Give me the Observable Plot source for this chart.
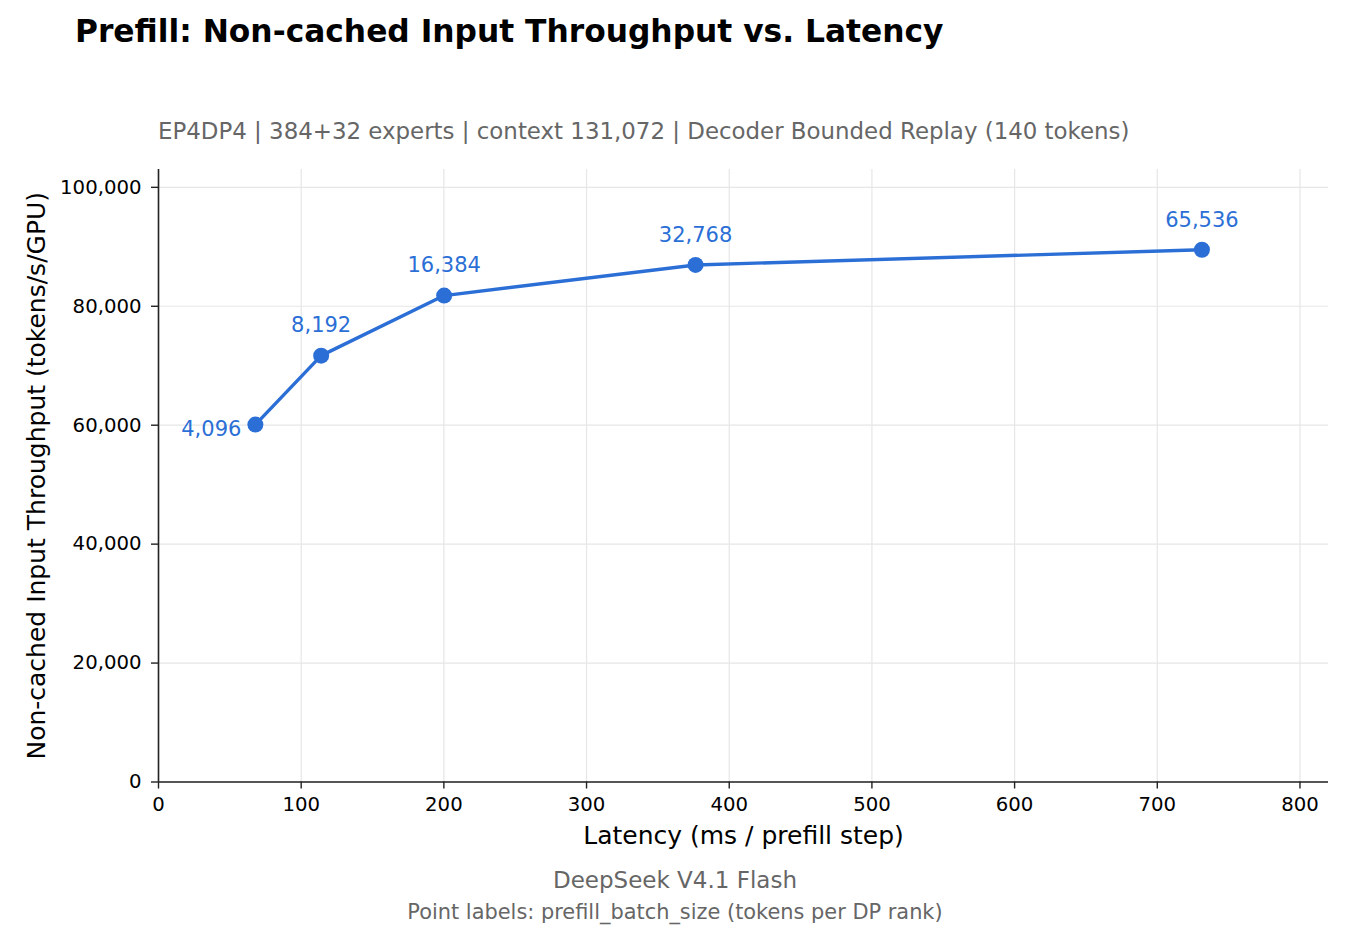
<!DOCTYPE html>
<html>
<head>
<meta charset="utf-8">
<script src="https://cdn.jsdelivr.net/npm/d3@7"></script>
<script src="https://cdn.jsdelivr.net/npm/@observablehq/plot@0.6"></script>
<style>
  html, body { margin: 0; padding: 0; background: #fff; }
  #page { position: relative; width: 1350px; height: 930px; font-family: "DejaVu Sans", sans-serif; }
  .txt { position: absolute; white-space: nowrap; line-height: 1; z-index: 2; }
  #title { left: 75px; top: 15.6px; font-size: 31.3px; font-weight: bold; color: #000; }
  #subtitle { left: 158px; top: 119.8px; font-size: 22.9px; color: #666; }
  #cap1 { left: 0; width: 1350px; text-align: center; top: 868.5px; font-size: 23px; color: #666; }
  #cap2 { left: 0; width: 1350px; text-align: center; top: 901.5px; font-size: 20.9px; color: #666; }
  #chart { position: absolute; left: 0; top: 100px; z-index: 1; }
</style>
</head>
<body>
<div id="page">
  <div id="chart"></div>
  <div id="title" class="txt">Prefill: Non-cached Input Throughput vs. Latency</div>
  <div id="subtitle" class="txt">EP4DP4 | 384+32 experts | context 131,072 | Decoder Bounded Replay (140 tokens)</div>
  <div id="cap1" class="txt">DeepSeek V4.1 Flash</div>
  <div id="cap2" class="txt">Point labels: prefill_batch_size (tokens per DP rank)</div>
</div>
<script>
// Prefill sweep: one point per prefill batch size
const batchSizes = [4096, 8192, 16384, 32768, 65536];
const latencyMs = [67.9, 114.0, 200.2, 376.4, 731.3];
const throughput = [60100, 71700, 81800, 86950, 89500];

// Axis ticks
const xTicks = [0, 100, 200, 300, 400, 500, 600, 700, 800];
const yTicks = [0, 20000, 40000, 60000, 80000, 100000];

const xLabel = "Latency (ms / prefill step)";
const yLabel = "Non-cached Input Throughput (tokens/s/GPU)";

const rows = batchSizes.map((b, i) => ({batch: b, latency: latencyMs[i], tput: throughput[i]}));
const fmt = d3.format(",");
const blue = "#2b6fd6";

const chart = Plot.plot({
  width: 1350,
  height: 760,
  marginLeft: 158,
  marginRight: 22,
  marginTop: 69,
  marginBottom: 78.5,
  style: {fontFamily: "DejaVu Sans, sans-serif", fontSize: "19.7px", color: "#000", background: "transparent"},
  x: {domain: [0, 820]},
  y: {domain: [0, 103000]},
  marks: [
    Plot.gridX(xTicks, {stroke: "#e6e6e6", strokeOpacity: 1, strokeWidth: 1.2}),
    Plot.gridY(yTicks, {stroke: "#e6e6e6", strokeOpacity: 1, strokeWidth: 1.2}),
    Plot.ruleX([0], {stroke: "#222", strokeWidth: 1.6}),
    Plot.ruleY([0], {stroke: "#222", strokeWidth: 1.6}),
    Plot.axisX(xTicks, {tickSize: 7, tickPadding: 8, label: null, stroke: "#222", strokeWidth: 1.4, fill: "#000"}),
    Plot.axisY(yTicks, {tickSize: 7, tickPadding: 10, label: null, tickFormat: fmt, stroke: "#222", strokeWidth: 1.4, fill: "#000"}),
    Plot.text([xLabel], {frameAnchor: "bottom", lineAnchor: "middle", dy: 53.5, fontSize: 25, fill: "#000"}),
    Plot.text([yLabel], {frameAnchor: "left", textAnchor: "middle", lineAnchor: "middle", dx: -122, rotate: -90, fontSize: 25, fill: "#000"}),
    Plot.line(rows, {x: "latency", y: "tput", stroke: blue, strokeWidth: 3.4}),
    Plot.dot(rows, {x: "latency", y: "tput", r: 8, fill: blue}),
    // smallest batch labelled to the left, the rest above their points
    Plot.text(rows.slice(0, 1), {x: "latency", y: "tput", text: d => fmt(d.batch), fill: blue,
      fontSize: 21, textAnchor: "end", dx: -14, dy: 5}),
    Plot.text(rows.slice(1), {x: "latency", y: "tput", text: d => fmt(d.batch), fill: blue, fontSize: 21, dy: -30})
  ]
});
document.getElementById("chart").appendChild(chart);
</script>
</body>
</html>
